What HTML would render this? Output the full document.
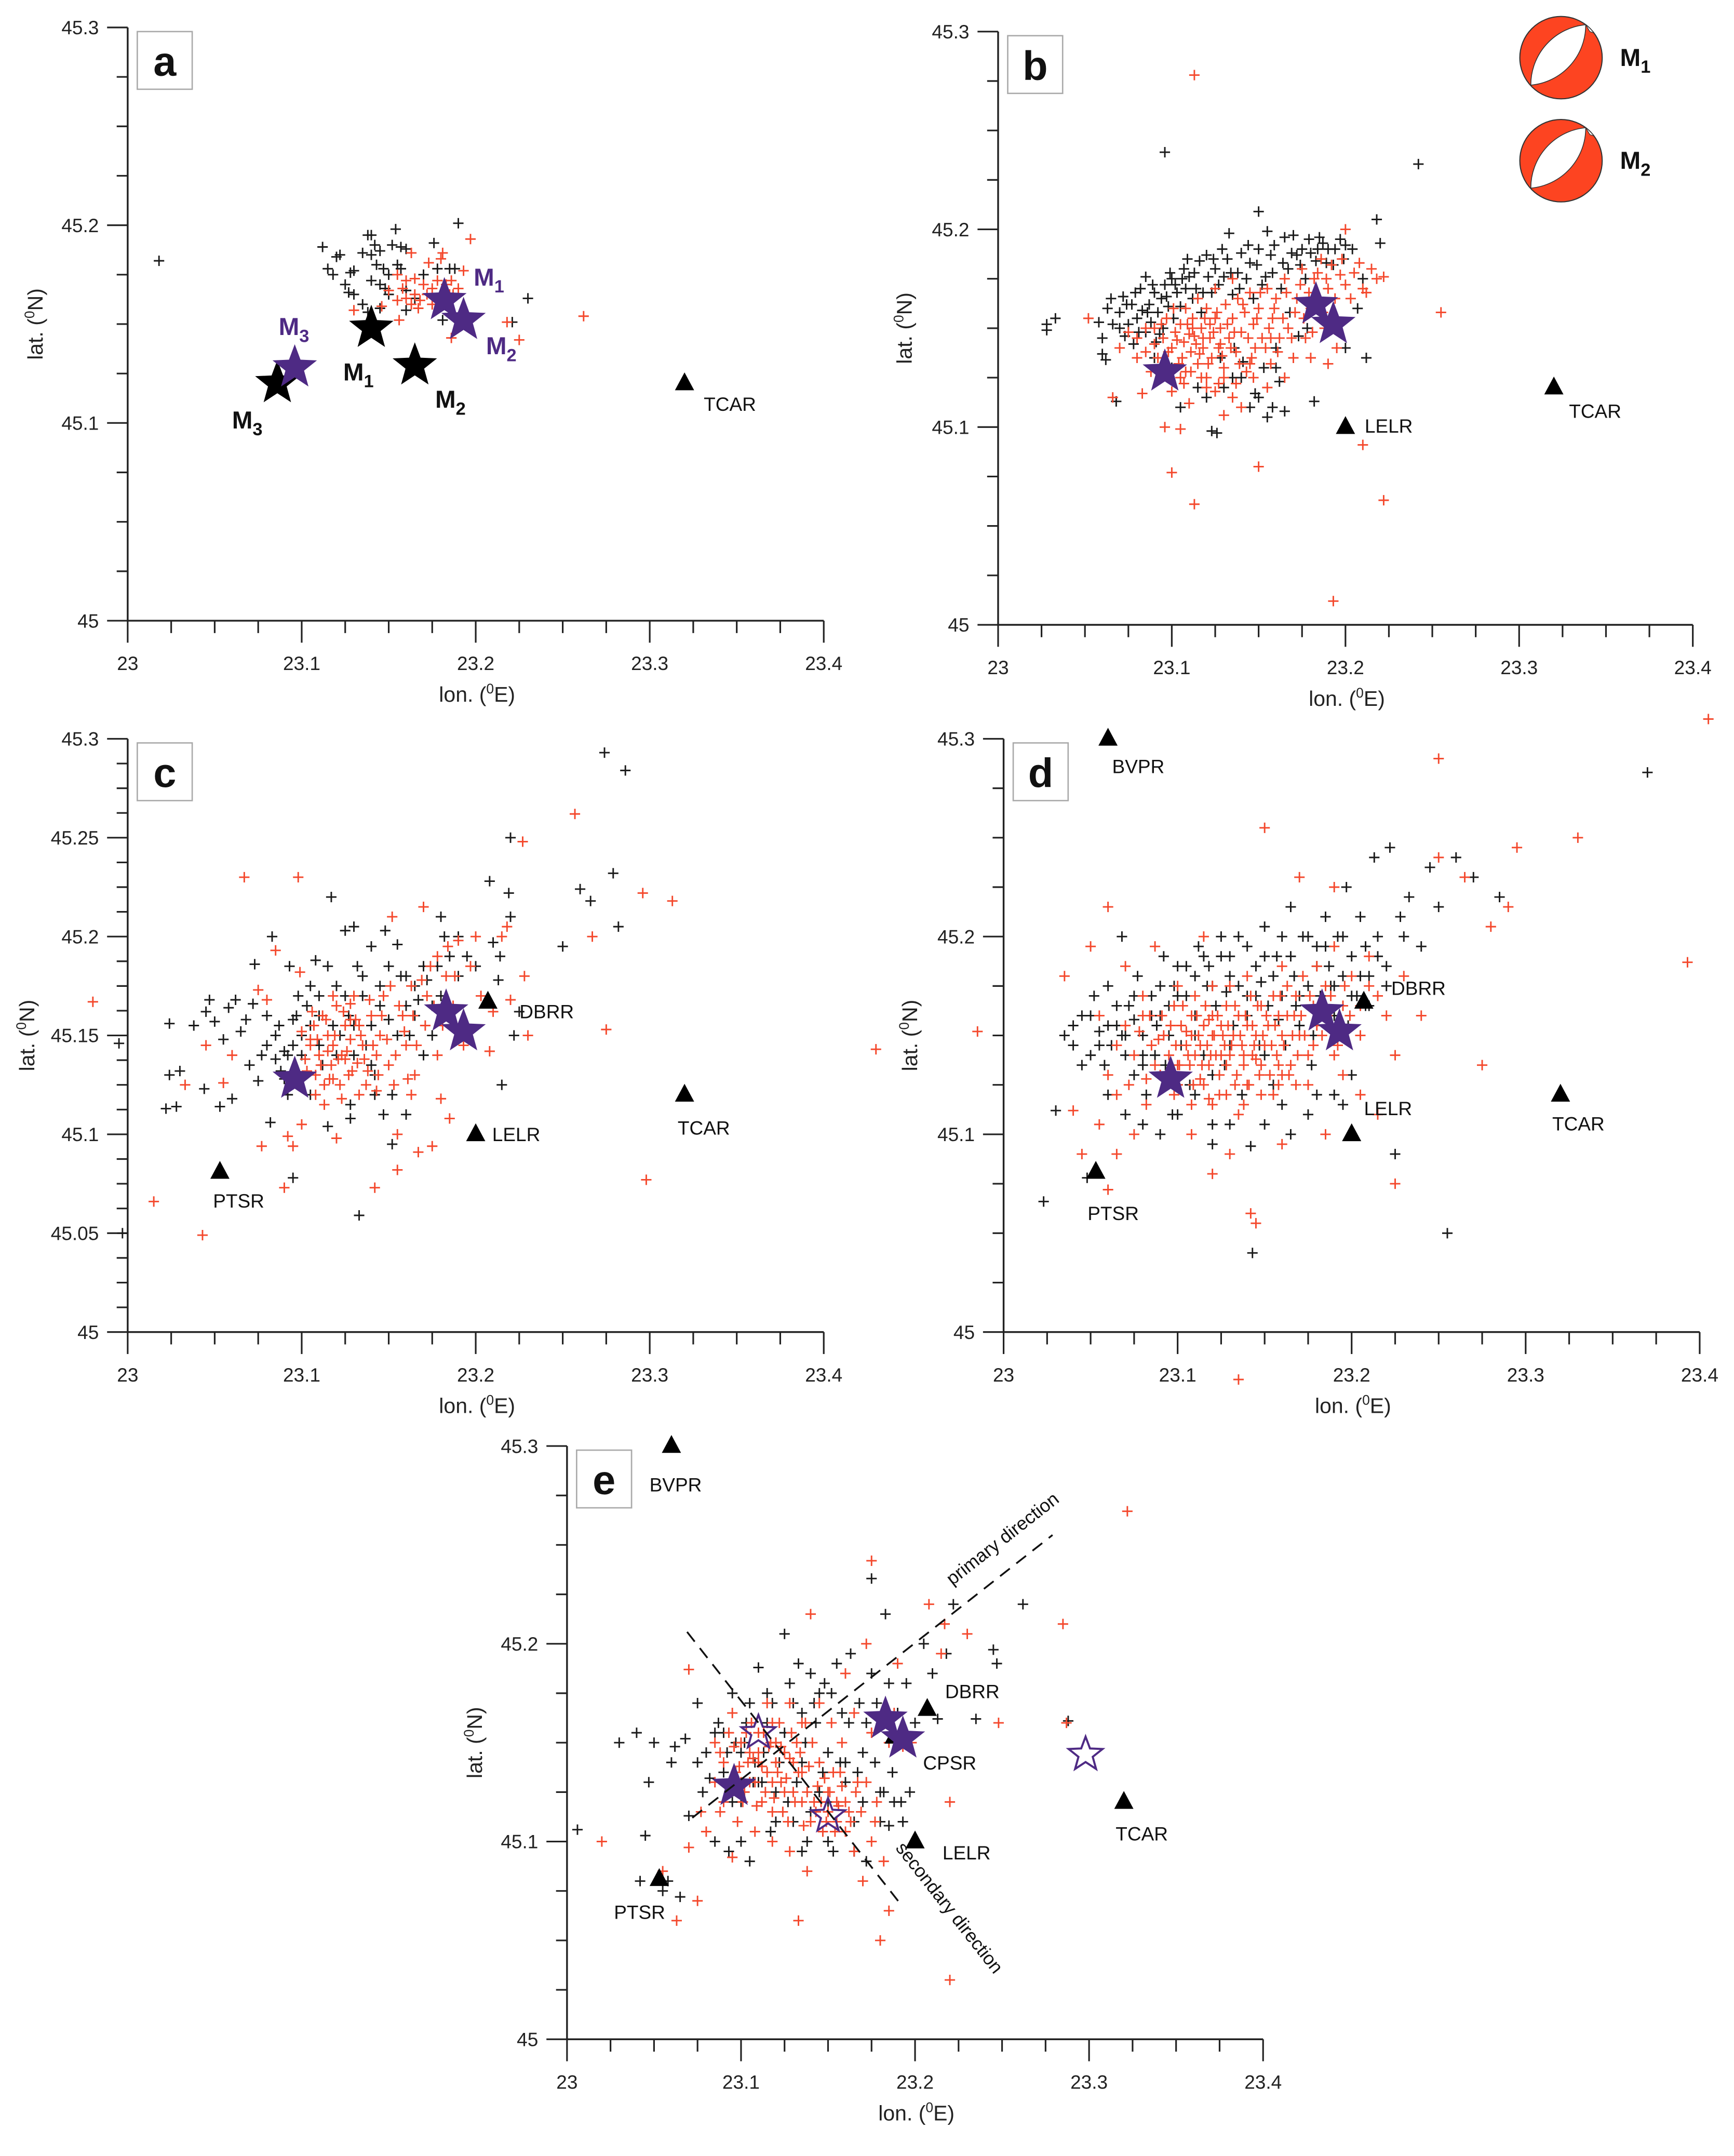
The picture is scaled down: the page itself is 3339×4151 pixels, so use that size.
<!DOCTYPE html>
<html><head><meta charset="utf-8"><title>Seismicity panels a-e</title>
<style>
html,body{margin:0;padding:0;background:#fff;}
svg{display:block;}
text{font-family:"Liberation Sans",Arial,sans-serif;}
</style></head>
<body>
<svg id="fig" xmlns="http://www.w3.org/2000/svg" width="3339" height="4151" viewBox="0 0 1263 1570" preserveAspectRatio="none"></svg>
<script>
// ---------------- DATA (lon, lat) ----------------
const aBlack=[[23.018,45.182],[23.112,45.189],[23.115,45.178],[23.12,45.184],[23.122,45.185],[23.118,45.175],[23.125,45.17],[23.128,45.176],[23.13,45.177],[23.127,45.166],[23.13,45.165],[23.135,45.186],[23.138,45.195],[23.14,45.195],[23.14,45.185],[23.142,45.19],[23.145,45.187],[23.143,45.18],[23.147,45.178],[23.14,45.172],[23.145,45.17],[23.15,45.175],[23.152,45.19],[23.154,45.198],[23.157,45.189],[23.16,45.188],[23.155,45.18],[23.157,45.178],[23.148,45.168],[23.135,45.16],[23.138,45.156],[23.145,45.158],[23.16,45.157],[23.165,45.163],[23.17,45.175],[23.176,45.191],[23.178,45.178],[23.19,45.201],[23.185,45.178],[23.188,45.178],[23.23,45.163],[23.221,45.151],[23.181,45.152],[23.16,45.167],[23.15,45.165]];
const aRed=[[23.163,45.186],[23.173,45.181],[23.181,45.186],[23.18,45.183],[23.197,45.193],[23.193,45.177],[23.155,45.175],[23.16,45.172],[23.165,45.173],[23.17,45.17],[23.175,45.168],[23.178,45.172],[23.183,45.17],[23.186,45.172],[23.185,45.165],[23.165,45.165],[23.168,45.162],[23.16,45.163],[23.155,45.162],[23.158,45.168],[23.172,45.165],[23.175,45.16],[23.167,45.158],[23.163,45.16],[23.15,45.167],[23.13,45.157],[23.146,45.159],[23.156,45.152],[23.262,45.154],[23.218,45.151],[23.225,45.142],[23.186,45.143],[23.187,45.165],[23.19,45.168]];
const bBlack=[[23.028,45.152],[23.028,45.149],[23.033,45.155],[23.058,45.153],[23.06,45.145],[23.06,45.137],[23.062,45.134],[23.063,45.16],[23.065,45.165],[23.066,45.152],[23.068,45.113],[23.07,45.158],[23.072,45.166],[23.073,45.146],[23.075,45.152],[23.077,45.162],[23.078,45.142],[23.08,45.155],[23.082,45.17],[23.083,45.159],[23.085,45.176],[23.085,45.148],[23.087,45.162],[23.088,45.153],[23.09,45.168],[23.091,45.143],[23.092,45.158],[23.094,45.165],[23.095,45.15],[23.096,45.172],[23.098,45.161],[23.1,45.175],[23.101,45.155],[23.103,45.168],[23.105,45.161],[23.107,45.18],[23.108,45.17],[23.11,45.176],[23.112,45.165],[23.114,45.17],[23.116,45.184],[23.117,45.158],[23.12,45.187],[23.121,45.176],[23.123,45.168],[23.125,45.18],[23.127,45.172],[23.128,45.135],[23.13,45.176],[23.132,45.185],[23.133,45.198],[23.135,45.167],[23.136,45.14],[23.138,45.178],[23.14,45.188],[23.141,45.133],[23.143,45.175],[23.145,45.183],[23.147,45.165],[23.148,45.117],[23.15,45.209],[23.15,45.19],[23.152,45.172],[23.153,45.13],[23.155,45.199],[23.157,45.187],[23.158,45.178],[23.16,45.14],[23.162,45.123],[23.163,45.17],[23.165,45.196],[23.167,45.18],[23.168,45.158],[23.17,45.197],[23.172,45.187],[23.173,45.146],[23.175,45.19],[23.177,45.175],[23.178,45.15],[23.18,45.188],[23.182,45.113],[23.183,45.184],[23.185,45.196],[23.187,45.193],[23.19,45.19],[23.193,45.182],[23.197,45.195],[23.2,45.192],[23.21,45.175],[23.212,45.135],[23.218,45.205],[23.22,45.193],[23.123,45.098],[23.126,45.097],[23.105,45.11],[23.115,45.12],[23.14,45.125],[23.165,45.108],[23.155,45.105],[23.096,45.239],[23.242,45.233],[23.207,45.16],[23.2,45.14]];
const bBlackCore=[[23.07,45.15],[23.074,45.162],[23.079,45.168],[23.081,45.148],[23.086,45.158],[23.089,45.172],[23.093,45.147],[23.097,45.166],[23.099,45.178],[23.102,45.172],[23.106,45.175],[23.109,45.185],[23.113,45.178],[23.118,45.168],[23.124,45.185],[23.129,45.19],[23.134,45.178],[23.139,45.17],[23.144,45.192],[23.149,45.182],[23.154,45.176],[23.159,45.192],[23.164,45.183],[23.169,45.188],[23.174,45.182],[23.179,45.195],[23.184,45.19],[23.189,45.183],[23.194,45.19],[23.199,45.185],[23.204,45.19],[23.09,45.135],[23.1,45.13],[23.12,45.115],[23.13,45.12],[23.145,45.11],[23.16,45.13],[23.135,45.125],[23.15,45.115],[23.158,45.11]];
const bRed=[[23.052,45.155],[23.066,45.115],[23.083,45.117],[23.096,45.1],[23.1,45.077],[23.105,45.099],[23.113,45.278],[23.113,45.061],[23.13,45.106],[23.15,45.08],[23.193,45.012],[23.21,45.091],[23.222,45.063],[23.255,45.158],[23.07,45.14],[23.075,45.148],[23.08,45.145],[23.085,45.138],[23.09,45.15],[23.092,45.135],[23.095,45.145],[23.097,45.155],[23.1,45.14],[23.102,45.148],[23.104,45.132],[23.105,45.152],[23.107,45.143],[23.108,45.128],[23.11,45.147],[23.111,45.138],[23.112,45.155],[23.114,45.142],[23.115,45.132],[23.117,45.15],[23.118,45.14],[23.12,45.125],[23.12,45.16],[23.122,45.145],[23.123,45.135],[23.125,45.155],[23.127,45.14],[23.128,45.15],[23.13,45.13],[23.131,45.162],[23.133,45.145],[23.135,45.155],[23.137,45.138],[23.138,45.165],[23.14,45.148],[23.142,45.158],[23.143,45.128],[23.145,45.168],[23.147,45.152],[23.148,45.14],[23.15,45.16],[23.152,45.145],[23.155,45.17],[23.157,45.132],[23.158,45.155],[23.16,45.165],[23.162,45.145],[23.165,45.175],[23.167,45.15],[23.17,45.135],[23.172,45.165],[23.175,45.18],[23.177,45.145],[23.18,45.16],[23.182,45.175],[23.185,45.165],[23.186,45.185],[23.188,45.15],[23.19,45.17],[23.192,45.182],[23.195,45.14],[23.197,45.177],[23.2,45.2],[23.2,45.172],[23.203,45.165],[23.205,45.178],[23.208,45.183],[23.21,45.17],[23.215,45.18],[23.218,45.175],[23.222,45.176],[23.12,45.12],[23.125,45.118],[23.135,45.115],[23.105,45.125],[23.098,45.13],[23.155,45.12],[23.14,45.11],[23.165,45.125],[23.18,45.135],[23.19,45.132],[23.115,45.165],[23.108,45.16],[23.125,45.17],[23.135,45.175],[23.112,45.15],[23.118,45.145],[23.122,45.152],[23.128,45.142]];
const bRedCore=[[23.09,45.142],[23.094,45.152],[23.098,45.138],[23.101,45.16],[23.103,45.144],[23.106,45.135],[23.109,45.152],[23.111,45.128],[23.113,45.146],[23.116,45.137],[23.119,45.155],[23.121,45.132],[23.124,45.148],[23.126,45.158],[23.129,45.136],[23.132,45.152],[23.134,45.14],[23.136,45.148],[23.139,45.132],[23.141,45.162],[23.144,45.145],[23.146,45.135],[23.149,45.155],[23.151,45.168],[23.154,45.14],[23.156,45.15],[23.159,45.16],[23.161,45.138],[23.164,45.155],[23.166,45.168],[23.169,45.145],[23.171,45.158],[23.174,45.172],[23.176,45.155],[23.179,45.168],[23.181,45.148],[23.184,45.178],[23.187,45.158],[23.189,45.175],[23.194,45.165],[23.198,45.185],[23.212,45.168],[23.107,45.122],[23.117,45.125],[23.127,45.122],[23.137,45.122],[23.147,45.125],[23.157,45.145],[23.1,45.118],[23.11,45.112],[23.13,45.125],[23.145,45.132],[23.085,45.15],[23.08,45.135],[23.088,45.128]];
const cBlack=[[22.995,45.146],[22.997,45.05],[23.022,45.113],[23.024,45.156],[23.024,45.13],[23.028,45.114],[23.03,45.132],[23.038,45.155],[23.044,45.123],[23.045,45.162],[23.047,45.168],[23.05,45.157],[23.053,45.114],[23.055,45.148],[23.058,45.164],[23.06,45.118],[23.062,45.168],[23.065,45.152],[23.068,45.158],[23.07,45.135],[23.072,45.166],[23.073,45.186],[23.075,45.127],[23.077,45.14],[23.08,45.145],[23.082,45.106],[23.083,45.2],[23.085,45.138],[23.087,45.155],[23.09,45.142],[23.09,45.128],[23.093,45.185],[23.095,45.078],[23.097,45.16],[23.1,45.15],[23.103,45.165],[23.105,45.12],[23.108,45.188],[23.11,45.17],[23.112,45.135],[23.115,45.104],[23.117,45.22],[23.12,45.175],[23.122,45.15],[23.125,45.203],[23.127,45.16],[23.128,45.115],[23.13,45.205],[23.132,45.185],[23.133,45.059],[23.135,45.17],[23.137,45.145],[23.14,45.195],[23.142,45.13],[23.145,45.175],[23.147,45.11],[23.148,45.203],[23.15,45.158],[23.152,45.095],[23.155,45.196],[23.157,45.18],[23.16,45.165],[23.162,45.15],[23.165,45.175],[23.167,45.168],[23.17,45.14],[23.172,45.178],[23.175,45.165],[23.178,45.185],[23.18,45.21],[23.182,45.2],[23.185,45.19],[23.19,45.2],[23.192,45.155],[23.195,45.19],[23.208,45.228],[23.21,45.197],[23.213,45.178],[23.214,45.19],[23.215,45.125],[23.219,45.222],[23.22,45.21],[23.22,45.25],[23.222,45.15],[23.225,45.162],[23.25,45.195],[23.26,45.224],[23.266,45.218],[23.274,45.293],[23.279,45.232],[23.282,45.205],[23.286,45.284],[23.11,45.145],[23.118,45.155],[23.13,45.14],[23.095,45.145],[23.105,45.155],[23.14,45.155]];
const cBlackCore=[[23.08,45.16],[23.085,45.15],[23.088,45.132],[23.092,45.14],[23.095,45.158],[23.098,45.17],[23.1,45.14],[23.105,45.175],[23.11,45.16],[23.115,45.185],[23.12,45.14],[23.125,45.17],[23.13,45.155],[23.135,45.18],[23.14,45.135],[23.145,45.165],[23.15,45.185],[23.155,45.15],[23.16,45.18],[23.165,45.16],[23.17,45.185],[23.175,45.15],[23.18,45.17],[23.19,45.18],[23.2,45.185],[23.142,45.12],[23.152,45.12],[23.16,45.11],[23.128,45.108],[23.092,45.12]];
const cRed=[[22.98,45.167],[23.015,45.066],[23.033,45.125],[23.043,45.049],[23.045,45.145],[23.055,45.126],[23.06,45.14],[23.067,45.23],[23.075,45.173],[23.077,45.094],[23.08,45.168],[23.085,45.193],[23.09,45.073],[23.092,45.099],[23.095,45.094],[23.098,45.23],[23.099,45.182],[23.1,45.105],[23.102,45.138],[23.105,45.145],[23.107,45.155],[23.108,45.13],[23.11,45.14],[23.112,45.16],[23.113,45.125],[23.115,45.15],[23.117,45.135],[23.118,45.145],[23.12,45.165],[23.12,45.098],[23.122,45.125],[23.123,45.14],[23.125,45.155],[23.127,45.13],[23.128,45.148],[23.13,45.17],[23.132,45.136],[23.133,45.155],[23.135,45.145],[23.137,45.125],[23.14,45.16],[23.142,45.073],[23.143,45.14],[23.145,45.15],[23.147,45.17],[23.15,45.135],[23.152,45.21],[23.155,45.1],[23.155,45.082],[23.158,45.16],[23.16,45.145],[23.163,45.175],[23.165,45.13],[23.167,45.091],[23.17,45.215],[23.172,45.17],[23.175,45.094],[23.178,45.14],[23.18,45.118],[23.183,45.18],[23.185,45.108],[23.187,45.165],[23.19,45.198],[23.193,45.145],[23.197,45.185],[23.2,45.2],[23.203,45.17],[23.208,45.142],[23.21,45.162],[23.215,45.2],[23.218,45.205],[23.22,45.168],[23.228,45.18],[23.23,45.15],[23.227,45.248],[23.257,45.262],[23.267,45.2],[23.275,45.153],[23.296,45.222],[23.298,45.077],[23.313,45.218],[23.43,45.143],[23.115,45.142],[23.125,45.138],[23.105,45.148],[23.128,45.158],[23.118,45.128],[23.138,45.132]];
const cRedCore=[[23.1,45.152],[23.103,45.132],[23.106,45.162],[23.109,45.148],[23.111,45.135],[23.114,45.158],[23.116,45.128],[23.119,45.15],[23.121,45.138],[23.124,45.162],[23.126,45.142],[23.129,45.132],[23.131,45.158],[23.134,45.15],[23.136,45.138],[23.139,45.168],[23.141,45.145],[23.144,45.13],[23.146,45.16],[23.149,45.148],[23.151,45.175],[23.154,45.14],[23.156,45.165],[23.159,45.152],[23.161,45.128],[23.164,45.16],[23.166,45.145],[23.169,45.178],[23.171,45.155],[23.174,45.185],[23.176,45.165],[23.178,45.19],[23.181,45.155],[23.184,45.195],[23.188,45.18],[23.113,45.115],[23.123,45.118],[23.133,45.12],[23.098,45.125],[23.108,45.12],[23.128,45.166],[23.118,45.17],[23.143,45.122],[23.153,45.125],[23.163,45.12]];
const dBlack=[[23.023,45.066],[23.03,45.112],[23.035,45.15],[23.04,45.145],[23.045,45.16],[23.048,45.078],[23.05,45.14],[23.052,45.17],[23.055,45.152],[23.058,45.135],[23.06,45.175],[23.062,45.145],[23.065,45.155],[23.068,45.2],[23.07,45.14],[23.072,45.165],[23.075,45.13],[23.077,45.18],[23.08,45.15],[23.082,45.12],[23.085,45.17],[23.087,45.14],[23.09,45.16],[23.092,45.19],[23.095,45.15],[23.097,45.11],[23.1,45.17],[23.102,45.145],[23.105,45.185],[23.107,45.125],[23.11,45.16],[23.112,45.195],[23.115,45.14],[23.117,45.175],[23.12,45.105],[23.122,45.165],[23.125,45.19],[23.127,45.135],[23.13,45.18],[23.132,45.155],[23.135,45.2],[23.137,45.12],[23.14,45.17],[23.142,45.094],[23.143,45.04],[23.145,45.185],[23.147,45.145],[23.15,45.205],[23.152,45.165],[23.155,45.125],[23.157,45.19],[23.16,45.17],[23.162,45.145],[23.165,45.215],[23.167,45.18],[23.17,45.155],[23.172,45.2],[23.175,45.175],[23.177,45.135],[23.18,45.195],[23.182,45.17],[23.185,45.21],[23.187,45.185],[23.19,45.16],[23.192,45.2],[23.195,45.18],[23.197,45.225],[23.2,45.19],[23.203,45.17],[23.205,45.21],[23.208,45.195],[23.21,45.18],[23.213,45.24],[23.215,45.2],[23.22,45.185],[23.222,45.245],[23.225,45.09],[23.228,45.21],[23.233,45.22],[23.24,45.195],[23.245,45.235],[23.25,45.215],[23.255,45.05],[23.26,45.24],[23.27,45.23],[23.285,45.22],[23.37,45.283],[23.088,45.155],[23.093,45.135],[23.1,45.125],[23.11,45.15],[23.12,45.13],[23.13,45.145],[23.14,45.16],[23.15,45.14],[23.16,45.115],[23.175,45.11],[23.19,45.12],[23.2,45.13],[23.08,45.135],[23.068,45.15],[23.075,45.158],[23.098,45.175],[23.118,45.185],[23.128,45.172],[23.148,45.177],[23.158,45.158],[23.168,45.165],[23.178,45.15],[23.188,45.175],[23.198,45.155],[23.208,45.165]];
const dBlackCore=[[23.04,45.155],[23.045,45.135],[23.05,45.16],[23.055,45.145],[23.06,45.155],[23.065,45.165],[23.07,45.15],[23.075,45.17],[23.08,45.14],[23.085,45.16],[23.09,45.175],[23.095,45.165],[23.1,45.185],[23.105,45.17],[23.11,45.18],[23.115,45.19],[23.12,45.175],[23.125,45.2],[23.13,45.19],[23.135,45.175],[23.14,45.195],[23.145,45.17],[23.15,45.19],[23.155,45.18],[23.16,45.2],[23.165,45.19],[23.17,45.17],[23.175,45.2],[23.18,45.185],[23.185,45.195],[23.19,45.175],[23.195,45.2],[23.2,45.17],[23.205,45.18],[23.21,45.165],[23.215,45.19],[23.22,45.175],[23.23,45.2],[23.06,45.12],[23.07,45.11],[23.08,45.105],[23.09,45.1],[23.1,45.11],[23.11,45.12],[23.12,45.095],[23.13,45.105],[23.15,45.105],[23.165,45.1],[23.18,45.12],[23.195,45.115]];
const dRed=[[22.985,45.152],[23.035,45.18],[23.04,45.112],[23.045,45.09],[23.05,45.195],[23.055,45.105],[23.06,45.215],[23.065,45.12],[23.07,45.185],[23.075,45.1],[23.08,45.16],[23.085,45.145],[23.09,45.13],[23.092,45.15],[23.095,45.14],[23.098,45.165],[23.1,45.125],[23.102,45.155],[23.105,45.145],[23.107,45.135],[23.108,45.16],[23.11,45.14],[23.112,45.15],[23.113,45.128],[23.115,45.155],[23.117,45.145],[23.118,45.135],[23.12,45.16],[23.121,45.15],[23.122,45.14],[23.124,45.13],[23.125,45.155],[23.127,45.145],[23.128,45.165],[23.13,45.14],[23.132,45.15],[23.133,45.125],[23.135,45.16],[23.137,45.145],[23.138,45.135],[23.14,45.155],[23.142,45.17],[23.143,45.14],[23.145,45.15],[23.147,45.13],[23.148,45.165],[23.15,45.145],[23.152,45.155],[23.155,45.17],[23.157,45.14],[23.158,45.16],[23.16,45.15],[23.163,45.175],[23.165,45.135],[23.167,45.16],[23.17,45.15],[23.172,45.18],[23.175,45.14],[23.178,45.165],[23.18,45.155],[23.185,45.175],[23.19,45.14],[23.195,45.165],[23.2,45.18],[23.205,45.15],[23.21,45.175],[23.22,45.16],[23.225,45.14],[23.23,45.18],[23.24,45.16],[23.25,45.29],[23.25,45.24],[23.265,45.23],[23.275,45.135],[23.28,45.205],[23.29,45.215],[23.295,45.245],[23.33,45.25],[23.393,45.187],[23.405,45.31],[23.135,44.976],[23.142,45.06],[23.145,45.055],[23.12,45.08],[23.15,45.255],[23.17,45.23],[23.19,45.225],[23.108,45.1],[23.13,45.09],[23.16,45.095],[23.185,45.1],[23.215,45.11],[23.225,45.075],[23.065,45.09],[23.06,45.072],[23.082,45.115],[23.087,45.195],[23.115,45.2],[23.12,45.115],[23.135,45.11],[23.155,45.12],[23.175,45.125],[23.195,45.13],[23.205,45.12],[23.11,45.17],[23.13,45.175],[23.1,45.135],[23.115,45.125],[23.14,45.125],[23.16,45.13],[23.125,45.14],[23.145,45.138],[23.105,45.152],[23.118,45.158]];
const dRedCore=[[23.075,45.14],[23.078,45.152],[23.082,45.128],[23.084,45.16],[23.087,45.135],[23.089,45.148],[23.091,45.16],[23.094,45.125],[23.096,45.155],[23.099,45.145],[23.101,45.135],[23.103,45.165],[23.106,45.14],[23.108,45.15],[23.109,45.125],[23.111,45.16],[23.113,45.145],[23.114,45.135],[23.116,45.165],[23.119,45.14],[23.12,45.15],[23.123,45.16],[23.124,45.12],[23.126,45.15],[23.128,45.135],[23.129,45.155],[23.131,45.145],[23.133,45.165],[23.134,45.13],[23.136,45.15],[23.138,45.14],[23.139,45.16],[23.141,45.125],[23.143,45.155],[23.144,45.145],[23.146,45.165],[23.148,45.135],[23.149,45.15],[23.151,45.16],[23.153,45.13],[23.154,45.145],[23.156,45.155],[23.158,45.135],[23.159,45.17],[23.161,45.145],[23.163,45.16],[23.164,45.13],[23.166,45.15],[23.168,45.17],[23.169,45.14],[23.171,45.16],[23.173,45.15],[23.176,45.17],[23.178,45.145],[23.181,45.165],[23.183,45.15],[23.186,45.16],[23.188,45.17],[23.192,45.145],[23.196,45.175],[23.199,45.16],[23.205,45.165],[23.21,45.19],[23.215,45.17],[23.098,45.12],[23.108,45.115],[23.118,45.118],[23.128,45.12],[23.138,45.115],[23.148,45.12],[23.158,45.125],[23.168,45.125],[23.1,45.175],[23.12,45.175],[23.14,45.18],[23.16,45.185],[23.18,45.185],[23.19,45.195],[23.08,45.17],[23.07,45.155],[23.065,45.145],[23.072,45.125],[23.06,45.13],[23.055,45.16]];
const eBlack=[[23.006,45.106],[23.03,45.15],[23.04,45.155],[23.042,45.08],[23.045,45.103],[23.047,45.13],[23.05,45.15],[23.055,45.075],[23.058,45.08],[23.06,45.14],[23.062,45.148],[23.065,45.072],[23.068,45.152],[23.07,45.113],[23.075,45.17],[23.078,45.125],[23.08,45.145],[23.085,45.1],[23.087,45.16],[23.09,45.135],[23.093,45.095],[23.095,45.175],[23.097,45.15],[23.1,45.12],[23.103,45.16],[23.105,45.09],[23.108,45.14],[23.11,45.188],[23.112,45.13],[23.115,45.175],[23.117,45.105],[23.12,45.15],[23.125,45.205],[23.127,45.12],[23.13,45.17],[23.133,45.19],[23.135,45.14],[23.138,45.1],[23.14,45.185],[23.143,45.16],[23.145,45.125],[23.148,45.18],[23.15,45.145],[23.153,45.095],[23.155,45.19],[23.158,45.165],[23.16,45.13],[23.163,45.195],[23.165,45.11],[23.168,45.17],[23.17,45.145],[23.172,45.09],[23.175,45.233],[23.175,45.185],[23.178,45.17],[23.18,45.125],[23.183,45.215],[23.185,45.18],[23.188,45.12],[23.19,45.165],[23.193,45.11],[23.195,45.18],[23.2,45.16],[23.205,45.2],[23.21,45.185],[23.213,45.162],[23.218,45.195],[23.222,45.22],[23.235,45.162],[23.245,45.197],[23.247,45.19],[23.262,45.22],[23.288,45.161],[23.09,45.155],[23.1,45.145],[23.11,45.13],[23.12,45.125],[23.13,45.11],[23.14,45.115],[23.15,45.12],[23.16,45.14],[23.115,45.16],[23.125,45.155],[23.135,45.165],[23.145,45.175],[23.105,45.17],[23.095,45.12],[23.17,45.12],[23.18,45.11],[23.185,45.108]];
const eBlackCore=[[23.075,45.14],[23.082,45.132],[23.085,45.155],[23.092,45.145],[23.098,45.128],[23.102,45.15],[23.107,45.13],[23.113,45.145],[23.118,45.17],[23.122,45.14],[23.128,45.18],[23.132,45.13],[23.137,45.15],[23.142,45.17],[23.147,45.135],[23.152,45.175],[23.157,45.14],[23.162,45.16],[23.167,45.135],[23.172,45.16],[23.177,45.14],[23.182,45.125],[23.187,45.135],[23.192,45.12],[23.197,45.125],[23.12,45.11],[23.135,45.095],[23.15,45.1],[23.165,45.095],[23.1,45.1]];
const eRed=[[23.02,45.1],[23.055,45.085],[23.063,45.06],[23.07,45.097],[23.075,45.07],[23.077,45.115],[23.08,45.105],[23.07,45.187],[23.085,45.13],[23.088,45.145],[23.09,45.12],[23.093,45.155],[23.095,45.092],[23.097,45.135],[23.1,45.15],[23.102,45.125],[23.104,45.14],[23.106,45.16],[23.108,45.13],[23.11,45.145],[23.112,45.12],[23.113,45.155],[23.115,45.135],[23.117,45.15],[23.118,45.115],[23.12,45.14],[23.122,45.16],[23.123,45.13],[23.125,45.145],[23.127,45.11],[23.128,45.17],[23.13,45.125],[23.132,45.15],[23.133,45.06],[23.135,45.135],[23.137,45.16],[23.138,45.085],[23.14,45.215],[23.142,45.12],[23.145,45.14],[23.147,45.105],[23.15,45.125],[23.152,45.16],[23.155,45.11],[23.157,45.135],[23.16,45.185],[23.162,45.115],[23.165,45.095],[23.167,45.13],[23.17,45.08],[23.172,45.2],[23.175,45.242],[23.177,45.11],[23.18,45.05],[23.182,45.09],[23.185,45.065],[23.188,45.165],[23.19,45.19],[23.193,45.148],[23.198,45.15],[23.208,45.22],[23.215,45.195],[23.217,45.21],[23.22,45.03],[23.22,45.12],[23.23,45.205],[23.248,45.16],[23.285,45.21],[23.287,45.16],[23.322,45.267],[23.1,45.13],[23.11,45.14],[23.118,45.13],[23.125,45.125],[23.13,45.14],[23.14,45.11],[23.15,45.115],[23.155,45.12],[23.16,45.105],[23.12,45.15],[23.105,45.145],[23.135,45.12]];
const eRedCore=[[23.09,45.14],[23.092,45.128],[23.096,45.148],[23.099,45.138],[23.101,45.12],[23.103,45.155],[23.105,45.13],[23.107,45.142],[23.109,45.118],[23.11,45.155],[23.112,45.138],[23.114,45.125],[23.116,45.148],[23.118,45.16],[23.119,45.122],[23.121,45.135],[23.123,45.148],[23.124,45.115],[23.126,45.132],[23.128,45.142],[23.129,45.155],[23.131,45.12],[23.133,45.135],[23.134,45.145],[23.136,45.108],[23.138,45.125],[23.139,45.138],[23.141,45.15],[23.143,45.115],[23.144,45.128],[23.146,45.12],[23.148,45.132],[23.149,45.11],[23.151,45.125],[23.153,45.135],[23.154,45.105],[23.156,45.118],[23.158,45.128],[23.16,45.12],[23.163,45.11],[23.166,45.125],[23.169,45.115],[23.172,45.13],[23.175,45.1],[23.178,45.12],[23.108,45.105],[23.118,45.1],[23.128,45.095],[23.098,45.11],[23.088,45.115],[23.085,45.15],[23.095,45.165],[23.115,45.17],[23.135,45.16],[23.145,45.17],[23.158,45.15],[23.165,45.165],[23.175,45.155],[23.185,45.15]];
// stations: name -> [lon, lat]
const stationNames={TCAR:[23.32,45.12],LELR:[23.2,45.1],DBRR:[23.207,45.167],PTSR:[23.053,45.081],BVPR:[23.06,45.3],CPSR:[23.188,45.153]};
const aStarsBlack=[[23.14,45.148],[23.165,45.129],[23.086,45.12]];
const aStarsPurple=[[23.182,45.162],[23.193,45.152],[23.096,45.128]];
const mainStars=[[23.096,45.128],[23.183,45.162],[23.193,45.152]];
const eHollowStars=[[23.11,45.155],[23.15,45.113],[23.298,45.144]];
const ePrimary=[[23.072,45.112],[23.279,45.255]];
const eSecondary=[[23.069,45.206],[23.192,45.068]];
const xTicks=[23,23.1,23.2,23.3,23.4];
const yTicksMain=[45,45.1,45.2,45.3];
const yTicksC=[45,45.05,45.1,45.15,45.2,45.25,45.3];

// ---------------- DRAWING ----------------
const NS='http://www.w3.org/2000/svg';
const svg=document.getElementById('fig');
function mk(tag,attrs,parent){const e=document.createElementNS(NS,tag);for(const k in attrs)e.setAttribute(k,attrs[k]);(parent||svg).appendChild(e);return e;}
const RED='#f4482c', BLK='#1a1a1a', PUR='#4e2a84';
function starPath(cx,cy,R){let d='';for(let i=0;i<10;i++){const r=i%2?R*0.42:R;const a=-Math.PI/2+i*Math.PI/5;d+=(i?'L':'M')+(cx+r*Math.cos(a)).toFixed(2)+','+(cy+r*Math.sin(a)).toFixed(2);}return d+'Z';}
function fmt(v){return (+v.toFixed(3)).toString();}

function panel(cfg){
  const g=mk('g',{});
  
  
  const X=v=>cfg.x0+(v-23)/0.4*(cfg.x1-cfg.x0);
  const Y=v=>cfg.yb-(v-45)/0.3*(cfg.yb-cfg.yt);
  const ax=mk('path',{d:`M${cfg.x0},${cfg.yt}V${cfg.yb}H${cfg.x1}`,fill:'none',stroke:'#222','stroke-width':1.3},g);
  
  
  for(let i=0;i<=16;i++){const v=23+i*0.025;const maj=i%4===0;
    const t=mk('line',{x1:X(v),x2:X(v),y1:cfg.yb,y2:cfg.yb+(maj?16:9),stroke:'#222','stroke-width':1.2},g);
    
    }
  xTicks.forEach(v=>{const t=mk('text',{x:X(v),y:cfg.yb+36,'font-size':14,'text-anchor':'middle',fill:'#222'},g);t.textContent=fmt(v);
    
    });
  const step=cfg.id==='c'?0.0125:0.025; const n=Math.round(0.3/step); const majEvery=4;
  for(let i=0;i<=n;i++){const v=45+i*step;const maj=i%majEvery===0;
    const t=mk('line',{x1:cfg.x0-(maj?15:8),x2:cfg.x0,y1:Y(v),y2:Y(v),stroke:'#222','stroke-width':1.2},g);
    
    }
  (cfg.id==='c'?yTicksC:yTicksMain).forEach(v=>{const t=mk('text',{x:cfg.x0-21,y:Y(v)+5,'font-size':14,'text-anchor':'end',fill:'#222'},g);t.textContent=fmt(v);
    
    });
  const xt=mk('text',{x:X(23.2)+1,y:cfg.yb+59,'font-size':15.5,'text-anchor':'middle',fill:'#222'},g);
  xt.innerHTML='lon. (<tspan font-size="10" dy="-6">0</tspan><tspan dy="6">E)</tspan>';
  
  
  const ymid=(cfg.yt+cfg.yb)/2;
  const yt=mk('text',{x:cfg.tx,y:ymid,'font-size':15.5,'text-anchor':'middle',fill:'#222',transform:`rotate(-90 ${cfg.tx} ${ymid})`},g);
  yt.innerHTML='lat. (<tspan font-size="10" dy="-6">0</tspan><tspan dy="6">N)</tspan>';
  
  
  const bx=mk('rect',{x:cfg.x0+7,y:cfg.yt+3,width:40,height:42,fill:'#fff',stroke:'#aaa','stroke-width':1},g);
  
  
  const bl=mk('text',{x:cfg.x0+27,y:cfg.yt+35,'font-size':30,'font-weight':'bold','text-anchor':'middle',fill:'#111'},g);
  bl.textContent=cfg.id;
  
  
  function plus(series,color,name){
    const gg=mk('g',{stroke:color,'stroke-width':1.1},g);
    
    
    series.forEach(p=>{const x=X(p[0]),y=Y(p[1]);
      const m=mk('path',{d:`M${x-3.8},${y}H${x+3.8}M${x},${y-3.8}V${y+3.8}`},gg);
      
      });
  }
  plus(cfg.black,BLK,'black-events');
  plus(cfg.red,RED,'red-events');
  cfg.stations.forEach(s=>{const ll=stationNames[s[0]];const x=X(ll[0]),y=Y(ll[1]);
    const tr=mk('path',{d:`M${x},${y-8}L${x+7},${y+5}L${x-7},${y+5}Z`,fill:'#000'},g);
    
    
    const tl=mk('text',{x:x+s[1],y:y+s[2],'font-size':14,fill:'#111'},g);tl.textContent=s[0];
    
    });
  return {g,X,Y};
}

const A=panel({id:'a',x0:93,x1:600,yt:20,yb:452,tx:31,black:aBlack,red:aRed,stations:[['TCAR',14,20]]});
const B=panel({id:'b',x0:727,x1:1233,yt:23,yb:455,tx:664,black:bBlack.concat(bBlackCore),red:bRed.concat(bRedCore),stations:[['LELR',14,4],['TCAR',11,22]]});
const C=panel({id:'c',x0:93,x1:600,yt:538,yb:970,tx:25,black:cBlack.concat(cBlackCore),red:cRed.concat(cRedCore),stations:[['DBRR',23,12],['LELR',12,5],['TCAR',-5,29],['PTSR',-5,26]]});
const D=panel({id:'d',x0:731,x1:1238,yt:538,yb:970,tx:668,black:dBlack.concat(dBlackCore),red:dRed.concat(dRedCore),stations:[['BVPR',3,25],['DBRR',20,-5],['LELR',9,-14],['TCAR',-6,26],['PTSR',-6,35]]});
const E=panel({id:'e',x0:413,x1:920,yt:1053,yb:1485,tx:351,black:eBlack.concat(eBlackCore),red:eRed.concat(eRedCore),stations:[['BVPR',-16,33],['DBRR',13,-8],['CPSR',21,24],['LELR',20,13],['TCAR',-6,28],['PTSR',-33,29]]});

function star(P,ll,R,fill,stroke,name){
  const s=mk('path',{d:starPath(P.X(ll[0]),P.Y(ll[1]),R),fill:fill,stroke:stroke||'none','stroke-width':1.5},P.g);
  
  
}
aStarsBlack.forEach(p=>star(A,p,17,'#000',null,'mainshock-star-black'));
aStarsPurple.forEach(p=>star(A,p,17,PUR,null,'mainshock-star-purple'));
[B,C,D,E].forEach(P=>mainStars.forEach(p=>star(P,p,17,PUR,null,'mainshock-star')));
eHollowStars.forEach(p=>star(E,p,13,'none',PUR,'hollow-star'));

function mlabel(x,y,sub,color,name){const t=mk('text',{x:x,y:y,'font-size':18,'font-weight':'bold',fill:color},A.g);
  t.innerHTML='M<tspan font-size="13" dy="5">'+sub+'</tspan>';
  
  }
mlabel(250,277,'1','#111','label-m1-black');
mlabel(317,297,'2','#111','label-m2-black');
mlabel(169,312,'3','#111','label-m3-black');
mlabel(345,208,'1',PUR,'label-m1-purple');
mlabel(354,258,'2',PUR,'label-m2-purple');
mlabel(203,244,'3',PUR,'label-m3-purple');

[[ePrimary,'primary direction','primary-direction-line'],[eSecondary,'secondary direction','secondary-direction-line']].forEach(([L,lab,nm],i)=>{
  const x1=E.X(L[0][0]),y1=E.Y(L[0][1]),x2=E.X(L[1][0]),y2=E.Y(L[1][1]);
  const ln=mk('line',{x1,y1,x2,y2,stroke:'#111','stroke-width':1.3,'stroke-dasharray':'9,6'},E.g);
  
  
  const ang=Math.atan2(y2-y1,x2-x1)*180/Math.PI;
  const cx=i===0?733:688, cy=i===0?1124:1392;
  const t=mk('text',{x:cx,y:cy,'font-size':13.5,'text-anchor':'middle',fill:'#111',transform:`rotate(${ang.toFixed(1)} ${cx} ${cy})`},E.g);
  t.textContent=lab;
  
  
});

// focal mechanism beachballs (panel b)
[[1137,42,'1'],[1137,117,'2']].forEach(([cx,cy,sub])=>{
  const bg=mk('g',{},B.g);
  
  
  mk('circle',{cx,cy,r:30,fill:'#fd4421',stroke:'#333','stroke-width':0.8},bg);
  mk('path',{d:`M${cx-22},${cy+20}A44,44 0 0 1 ${cx+18},${cy-24}A44,44 0 0 1 ${cx-22},${cy+20}Z`,fill:'#fff',stroke:'#333','stroke-width':0.6},bg);
  mk('path',{d:`M${cx+18},${cy-24}L${cx+21},${cy-19}L${cx+24},${cy-18}A30,30 0 0 0 ${cx+18},${cy-24}Z`,fill:'#fff',stroke:'#333','stroke-width':0.5},bg);
  const t=mk('text',{x:cx+43,y:cy+6,'font-size':18,'font-weight':'bold',fill:'#111'},B.g);
  t.innerHTML='M<tspan font-size="13" dy="5">'+sub+'</tspan>';
  
  
});
</script>
</body></html>
